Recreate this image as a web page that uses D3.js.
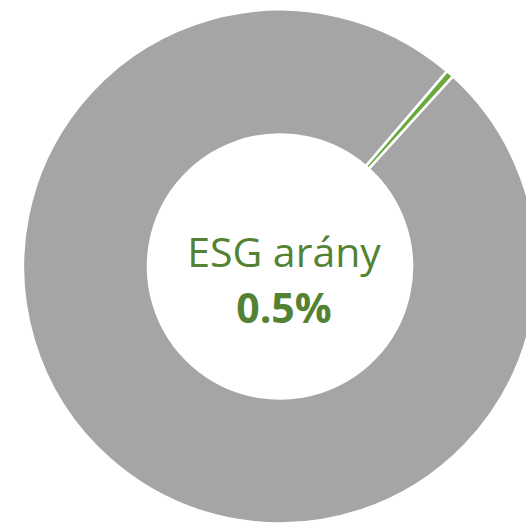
<!DOCTYPE html>
<head>
  <meta charset="utf-8">
  <title>ESG arány</title>
  <script src="https://d3js.org/d3.v7.min.js"></script>
  <style>
    body { margin:0; background:#fff; }
    svg { display:block; }
  </style>
</head>

<body>
  <svg width="526" height="527"></svg>
  <script>
    var categories = ['ESG', 'Egyéb'];
    var values = [0.5, 99.5];
    var colors = ['#6aaa3c', '#a5a5a5'];
    var titleText = 'ESG arány';
    var valueText = '0.5%';

    var cx = 280, cy = 266.5;
    var outerR = 257, innerR = 132;
    var startDeg = 40.5;

    var svg = d3.select('svg');
    var g = svg.append('g').attr('transform', 'translate(' + cx + ',' + cy + ')');

    var pie = d3.pie()
      .sort(null)
      .value(d => d)
      .startAngle(startDeg * Math.PI / 180)
      .endAngle(startDeg * Math.PI / 180 + 2 * Math.PI);

    var arc = d3.arc().innerRadius(innerR).outerRadius(outerR);

    g.selectAll('path')
      .data(pie(values))
      .enter().append('path')
      .attr('d', arc)
      .attr('fill', (d, i) => colors[i])
      .attr('stroke', '#fff')
      .attr('stroke-width', 2.5);

    // center label
    var label = svg.append('g')
      .attr('fill', '#548235')
      .attr('font-family', '"Open Sans", sans-serif')
      .attr('text-anchor', 'middle');

    label.append('text')
      .attr('x', 284)
      .attr('y', 266.5)
      .attr('font-size', 41)
      .text(titleText);

    label.append('text')
      .attr('x', 284)
      .attr('y', 323)
      .attr('font-size', 41)
      .attr('font-weight', 'bold')
      .text(valueText);
  </script>
</body>
